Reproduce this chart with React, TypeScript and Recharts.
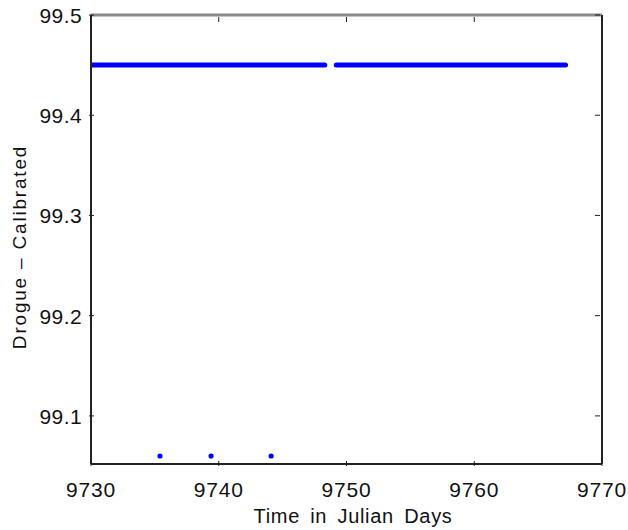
import { ComposedChart, Line, Scatter, XAxis, YAxis, ReferenceLine } from 'recharts'

// axis ticks
const X_TICKS = [9730, 9740, 9750, 9760, 9770]
const Y_TICKS = [99.1, 99.2, 99.3, 99.4, 99.5]
const X_DOMAIN = [9730, 9770]
const Y_DOMAIN = [99.052, 99.5]

// drogue record: steady level in two runs, with a short gap around day 9748.8
const runA = [
  { day: 9730, value: 99.45 },
  { day: 9748.3, value: 99.45 },
]
const runB = [
  { day: 9749.2, value: 99.45 },
  { day: 9767.15, value: 99.45 },
]
// isolated low readings
const outliers = [
  { day: 9735.4, value: 99.06 },
  { day: 9739.4, value: 99.06 },
  { day: 9744.1, value: 99.06 },
]

const W = 628
const H = 530
const M = { top: 15, right: 26, left: 0, bottom: 0 }
const Y_AXIS_W = 91
const X_AXIS_H = 66
const PLOT_W = W - M.right - Y_AXIS_W
const PLOT_H = H - M.top - X_AXIS_H
const FONT = '"Liberation Sans", Arial, sans-serif'
const TICK_LEN = 5

function XTick({ x, y, payload }: any) {
  return (
    <g>
      <line x1={x} x2={x} y1={y} y2={y - TICK_LEN} stroke="#222" strokeWidth={1} />
      <line x1={x} x2={x} y1={y - PLOT_H} y2={y - PLOT_H + TICK_LEN} stroke="#222" strokeWidth={1} />
      <text
        x={x}
        y={y + 31}
        textAnchor="middle"
        fontSize={21}
        letterSpacing={0.8}
        fontFamily={FONT}
        fill="#111"
      >
        {payload.value}
      </text>
    </g>
  )
}

function YTick({ x, y, payload }: any) {
  return (
    <g>
      <line x1={x} x2={x + TICK_LEN} y1={y} y2={y} stroke="#222" strokeWidth={1} />
      <line x1={x + PLOT_W} x2={x + PLOT_W - TICK_LEN} y1={y} y2={y} stroke="#222" strokeWidth={1} />
      <text
        x={x - 7}
        y={y + 8}
        textAnchor="end"
        fontSize={21}
        letterSpacing={0.4}
        fontFamily={FONT}
        fill="#111"
      >
        {Number(payload.value).toFixed(1)}
      </text>
    </g>
  )
}

export default function App() {
  return (
    <div style={{ position: 'fixed', left: 0, top: 0, width: W, height: H, background: '#fff' }}>
      <ComposedChart width={W} height={H} margin={M}>
        <XAxis
          dataKey="day"
          type="number"
          domain={X_DOMAIN}
          ticks={X_TICKS}
          allowDataOverflow
          height={X_AXIS_H}
          tickSize={0}
          tick={<XTick />}
          axisLine={{ stroke: '#222', strokeWidth: 2 }}
          label={{
            content: () => (
              <text
                x={353}
                y={523}
                textAnchor="middle"
                fontSize={20}
                letterSpacing={0.7}
                wordSpacing={4}
                fontFamily={FONT}
                fill="#111"
              >
                Time in Julian Days
              </text>
            ),
          }}
        />
        <YAxis
          type="number"
          domain={Y_DOMAIN}
          ticks={Y_TICKS}
          allowDataOverflow
          width={Y_AXIS_W}
          tickSize={0}
          tick={<YTick />}
          axisLine={{ stroke: '#222', strokeWidth: 2 }}
          label={{
            content: () => (
              <text
                x={26}
                y={247}
                transform="rotate(-90 26 247)"
                textAnchor="middle"
                fontSize={19}
                letterSpacing={1.8}
                fontFamily={FONT}
                fill="#111"
              >
                Drogue – Calibrated
              </text>
            ),
          }}
        />
        <ReferenceLine y={99.5} stroke="#8a8a8a" strokeWidth={3} ifOverflow="visible" />
        <ReferenceLine x={9770} stroke="#222" strokeWidth={2} ifOverflow="visible" />
        <Line
          data={runA}
          dataKey="value"
          stroke="#0000ff"
          strokeWidth={5}
          strokeLinecap="round"
          dot={false}
          isAnimationActive={false}
        />
        <Line
          data={runB}
          dataKey="value"
          stroke="#0000ff"
          strokeWidth={5}
          strokeLinecap="round"
          dot={false}
          isAnimationActive={false}
        />
        <Scatter
          data={outliers}
          dataKey="value"
          fill="#0000ff"
          isAnimationActive={false}
          shape={(p: any) => <circle cx={p.cx} cy={p.cy} r={2.6} fill="#0000ff" />}
        />
      </ComposedChart>
    </div>
  )
}
